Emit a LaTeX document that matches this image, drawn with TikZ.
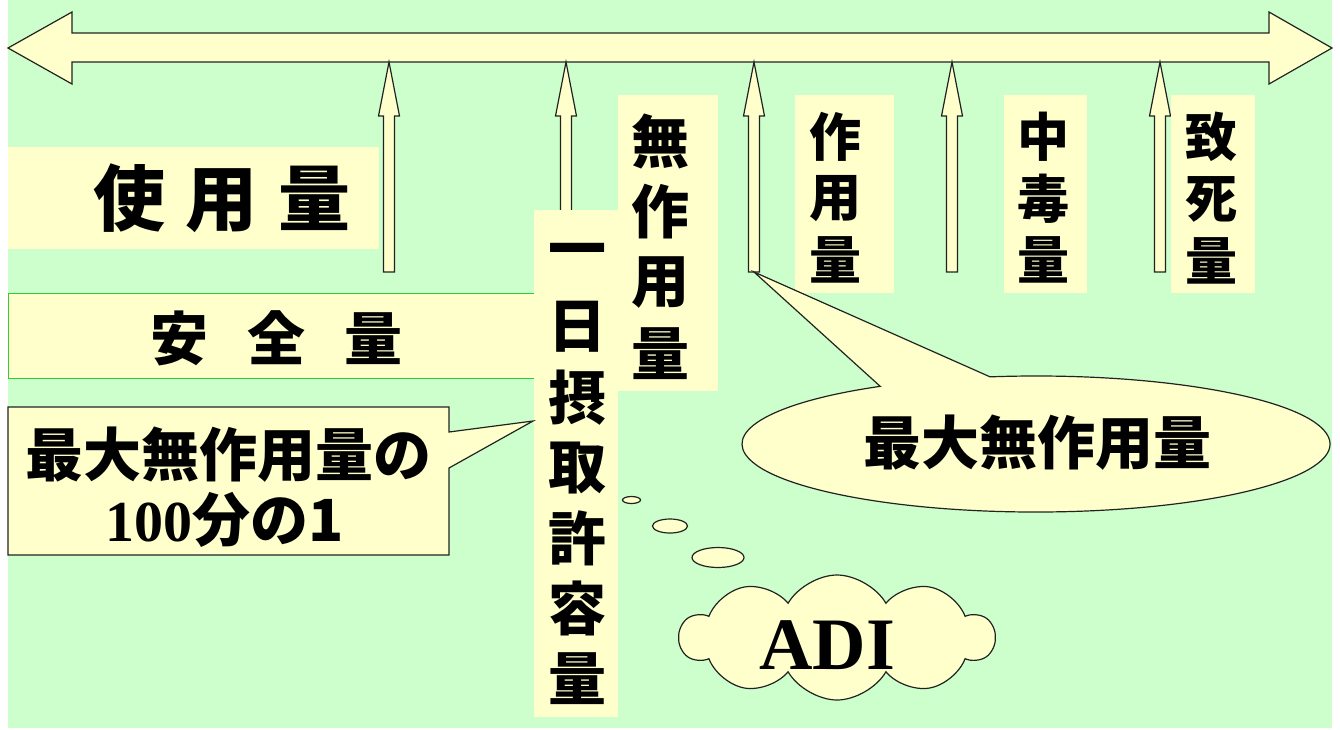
\documentclass[tikz,border=0pt]{standalone}
\usepackage{fontspec}
\usetikzlibrary{shapes.symbols,shapes.geometric,calc}
\newfontfamily\jp{Noto Sans CJK JP}
\newfontfamily\tnr{Liberation Serif}
\definecolor{bg}{HTML}{CCFFCC}
\definecolor{ylw}{HTML}{FFFFCC}
\definecolor{edge}{HTML}{222222}
\definecolor{grn}{HTML}{33CC33}
\begin{document}
\begin{tikzpicture}[x=1pt,y=-1pt,
  outl/.style={draw=edge,line width=1.2pt,fill=ylw,line join=miter},
  lbox/.style={fill=ylw,draw=none,inner sep=0pt,outer sep=0pt},
  jpA/.style={font=\jp\bfseries\fontsize{58}{58}\selectfont,inner sep=0pt},
  jpB/.style={font=\jp\bfseries\fontsize{52}{52}\selectfont,inner sep=0pt},
  jpC/.style={font=\jp\bfseries\fontsize{72}{72}\selectfont,inner sep=0pt}]
\useasboundingbox (0,0) rectangle (1340,729);
\fill[white] (0,0) rectangle (1340,729);
\fill[bg] (8,0) rectangle (1332,728);
% main double arrow
\draw[outl] (8,48) -- (72,12) -- (72,33) -- (1269,33) -- (1269,12) -- (1332,48)
  -- (1269,84) -- (1269,62) -- (72,62) -- (72,84) -- cycle;
% up arrows
\foreach \x in {389,566,754,952,1160}{
  \draw[outl] (\x,62) -- (\x+10.5,116) -- (\x+5.5,116) -- (\x+5.5,272)
    -- (\x-5.5,272) -- (\x-5.5,116) -- (\x-10.5,116) -- cycle;
}
% label boxes
\node[lbox,minimum width=371pt,minimum height=102pt] (shiyou) at (193.5,198) {};
\node[jpC] (shiyoutxt) at (222,198) {使\hspace{20.5pt}用\hspace{20.5pt}量};
\node[lbox,draw=grn,line width=1pt,minimum width=532pt,minimum height=85pt] (anzen) at (274,335.5) {};
\node[jpA] (anzentxt) at (276.5,338.5) {安\hspace{39pt}全\hspace{39pt}量};
\node[lbox,minimum width=84pt,minimum height=507pt] (ichi) at (576,463.5) {};
\foreach \c [count=\i] in {一,日,摂,取,許,容,量}
  \node[jpA] (ic\i) at (577.5,256.5+70.4*\i-70.4) {\c};
\node[lbox,minimum width=100pt,minimum height=296pt] (mu) at (668,243) {};
\foreach \c [count=\i] in {無,作,用,量}
  \node[jpA] (mu\i) at (660,141+71*\i-71) {\c};
\node[lbox,minimum width=99pt,minimum height=198pt] (saku) at (844.5,194) {};
\foreach \c [count=\i] in {作,用,量}
  \node[jpB] (sa\i) at (835,137+61.5*\i-61.5) {\c};
\node[lbox,minimum width=83pt,minimum height=198pt] (chu) at (1045.5,194) {};
\foreach \c [count=\i] in {中,毒,量}
  \node[jpB] (ch\i) at (1043,137+61.5*\i-61.5) {\c};
\node[lbox,minimum width=84pt,minimum height=198pt] (chi) at (1213,194) {};
\foreach \c [count=\i] in {致,死,量}
  \node[jpB] (cs\i) at (1211,137+62*\i-62) {\c};
% rectangular callout
\draw[outl] (8,407) -- (449,407) -- (449,432) -- (533,421) -- (449,468)
  -- (449,555) -- (8,555) -- cycle;
\node[jpA] (co1) at (228.5,454.5) {最大無作用量の};
\node[jpA] (co2) at (225,520) {{\tnr 100}分の1};
% oval callout
\draw[outl] (754,272) -- ($(1036,444)+(261:294 and 68)$)
  arc[start angle=261,end angle=598,x radius=294,y radius=68] -- cycle;
\node[jpA] (ov) at (1037,443) {最大無作用量};
% thought bubbles and cloud
\node[outl,ellipse,inner sep=0pt,minimum width=18pt,minimum height=7pt] (b1) at (631.5,500) {};
\node[outl,ellipse,inner sep=0pt,minimum width=35pt,minimum height=14pt] (b2) at (670,526) {};
\node[outl,ellipse,inner sep=0pt,minimum width=52pt,minimum height=20pt] (b3) at (718,557.5) {};
\node[outl,cloud,cloud puffs=10,cloud puff arc=120,aspect=2.5,inner sep=0pt,
  minimum width=314pt,minimum height=125pt] (adi) at (837,637.5) {};
\node[font=\tnr\bfseries\fontsize{74}{74}\selectfont,inner sep=0pt] (aditxt) at (827,645) {ADI};
\end{tikzpicture}
\end{document}
